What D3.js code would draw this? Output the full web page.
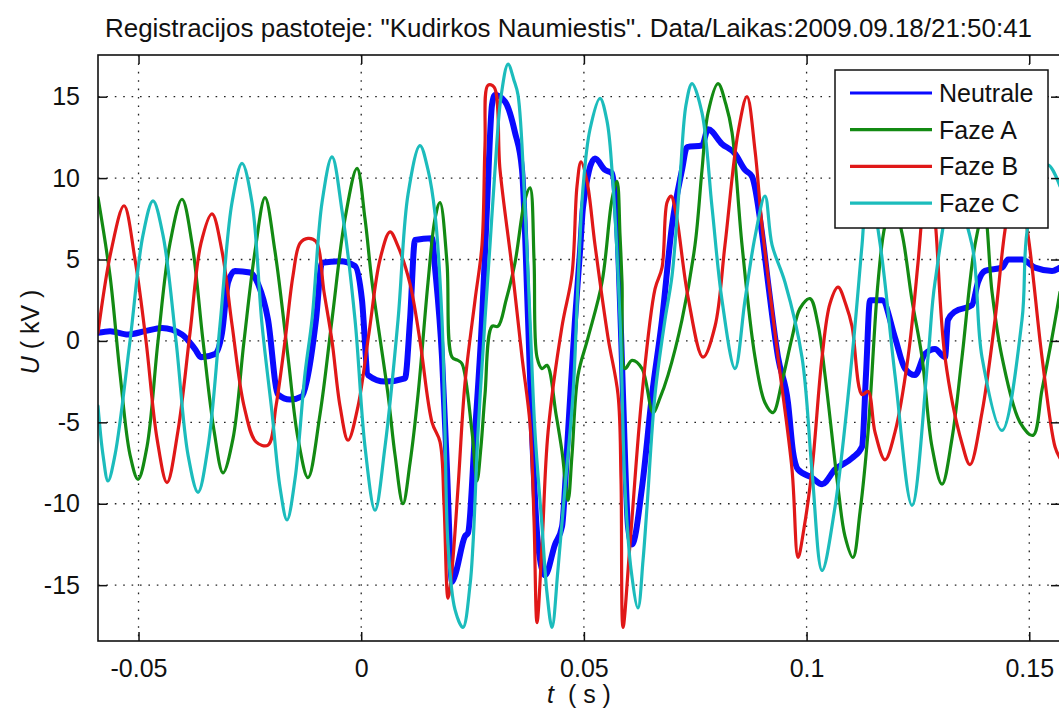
<!DOCTYPE html>
<html>
<head>
<meta charset="utf-8">
<script src="https://cdn.jsdelivr.net/npm/d3@7"></script>
<style>
  html, body { margin: 0; padding: 0; background: #ffffff; }
  svg { display: block; }
  text { font-family: "Liberation Sans", Arial, sans-serif; fill: #111; }
</style>
</head>
<body>
<div id="chart"></div>
<script>
// ---------------- DATA ----------------
const titleText = 'Registracijos pastoteje: "Kudirkos Naumiestis". Data/Laikas:2009.09.18/21:50:41';
const seriesNames = ["Neutrale", "Faze A", "Faze B", "Faze C"];
const xTicks = [-0.05, 0, 0.05, 0.1, 0.15];
const xTickLabels = ["-0.05", "0", "0.05", "0.1", "0.15"];
const yTicks = [-15, -10, -5, 0, 5, 10, 15];
const yTickLabels = ["-15", "-10", "-5", "0", "5", "10", "15"];
const xDomain = [-0.0591, 0.1569];
const yDomain = [-18.43, 17.56];

// Neutrale (blue)
const tNeutrale = [-0.05910,-0.05640,-0.05236,-0.04855,-0.04473,-0.04024,-0.03732,-0.03597,-0.03283,-0.03125,
 -0.02990,-0.02834,-0.02497,-0.02317,-0.02092,-0.01868,-0.01599,-0.01329,-0.01217,-0.01015,
 -0.00880,-0.00476,-0.00139,0.00018,0.00153,0.00534,0.00983,0.01096,0.01208,0.01590,
 0.01657,0.01814,0.01926,0.02039,0.02106,0.02330,0.02398,0.02555,0.02712,0.02824,
 0.02937,0.03004,0.03229,0.03453,0.03611,0.03746,0.03835,0.03970,0.04127,0.04351,
 0.04509,0.04644,0.04800,0.04913,0.04980,0.05249,0.05474,0.05631,0.05766,0.05878,
 0.05991,0.06080,0.06305,0.06530,0.06754,0.06979,0.07203,0.07315,0.07652,0.07787,
 0.08101,0.08393,0.08617,0.08775,0.08999,0.09134,0.09359,0.09583,0.09695,0.09808,
 0.10122,0.10347,0.10638,0.11020,0.11245,0.11335,0.11424,0.11694,0.11985,0.12210,
 0.12434,0.12659,0.12883,0.13108,0.13176,0.13332,0.13714,0.13849,0.14006,0.14388,
 0.14523,0.14837,0.15129,0.15511,0.15690];
const uNeutrale = [0.5,0.6,0.4,0.6,0.8,0.4,-0.5,-1.0,-0.8,0.5,
 3.6,4.3,4.2,3.5,1.3,-3.3,-3.6,-3.4,-2.4,1.3,
 4.8,4.9,4.6,2.5,-2.1,-2.5,-2.3,1.3,6.2,6.3,
 4.5,-1.0,-7.9,-14.8,-14.4,-12.0,-11.8,-5.6,1.3,8.2,
 14.5,15.1,14.7,12.8,10.5,1.3,-5.6,-12.5,-14.4,-12.5,
 -11.4,-5.6,1.3,5.5,8.2,11.2,10.5,10.3,5.9,-3.3,
 -11.4,-12.5,-9.0,-3.3,1.3,7.1,10.5,11.9,12.0,13.0,
 12.1,11.5,10.5,10.1,6.6,3.6,-1.0,-3.8,-6.8,-7.9,
 -8.4,-8.8,-7.9,-7.2,-6.5,-2.0,2.5,2.5,0.2,-1.7,
 -2.1,-0.8,-0.5,-1.0,1.3,1.8,2.2,3.6,4.3,4.5,
 5.0,5.0,4.5,4.3,4.5];

// Faze A (green)
const tFazeA = [-0.05910,-0.05640,-0.05416,-0.05191,-0.05011,-0.04810,-0.04562,-0.04293,-0.04024,-0.03799,
 -0.03552,-0.03305,-0.03103,-0.02879,-0.02631,-0.02385,-0.02160,-0.01936,-0.01643,-0.01419,
 -0.01194,-0.00925,-0.00656,-0.00364,-0.00094,0.00085,0.00243,0.00602,0.00759,0.00938,
 0.01096,0.01276,0.01500,0.01657,0.01769,0.01926,0.02039,0.02174,0.02263,0.02488,
 0.02600,0.02689,0.02779,0.02937,0.03072,0.03252,0.03453,0.03678,0.03790,0.03880,
 0.03947,0.04060,0.04172,0.04374,0.04509,0.04644,0.04733,0.04868,0.05093,0.05407,
 0.05631,0.05743,0.05811,0.05856,0.05923,0.06080,0.06305,0.06552,0.06709,0.06889,
 0.07203,0.07495,0.07652,0.07787,0.08012,0.08191,0.08326,0.08550,0.08842,0.09066,
 0.09246,0.09448,0.09673,0.09852,0.10077,0.10257,0.10414,0.10706,0.10863,0.11042,
 0.11200,0.11380,0.11604,0.11761,0.11940,0.12143,0.12367,0.12592,0.12816,0.13041,
 0.13265,0.13490,0.13781,0.13984,0.14164,0.14388,0.14792,0.15084,0.15286,0.15511,
 0.15690];
const uFazeA = [8.8,4.0,-2.0,-7.0,-8.5,-6.5,0,6.0,8.7,6.0,
 0,-5.5,-8.1,-6.0,0,5.5,8.8,5.5,-1.0,-6.0,
 -8.4,-4.5,1.3,7.5,10.6,7.5,3.6,-3.3,-7.0,-10.0,
 -7.5,-3.3,3.6,7.5,8.5,4.8,-1.0,-1.2,-1.4,-5.6,
 -8.6,-6.5,-3.3,0.9,0.9,2.5,4.8,8.7,9.4,5.0,
 -1.0,-1.7,-1.5,-4.5,-6.8,-9.8,-7.0,-2.1,0.2,3.6,
 8.7,9.8,6.5,3.6,-1.7,-1.2,-1.7,-4.4,-3.5,-2.1,
 1.3,5.9,10.5,14.0,15.8,14.5,12.8,5.9,-1.0,-3.8,
 -4.4,-2.5,0.2,2.0,2.6,1.0,-2.1,-9.0,-12.0,-13.3,
 -10.5,-5.6,3.6,7.1,8.5,6.6,2.5,-1.0,-6.5,-8.8,
 -6.0,-1.0,5.9,8.0,3.0,-1.0,-5.0,-5.8,-3.0,0.2,
 3.0];

// Faze B (red)
const tFazeB = [-0.05910,-0.05618,-0.05326,-0.05079,-0.04832,-0.04585,-0.04361,-0.04113,-0.03844,-0.03597,
 -0.03350,-0.03125,-0.02901,-0.02631,-0.02362,-0.02092,-0.01913,-0.01711,-0.01532,-0.01374,
 -0.01194,-0.01015,-0.00835,-0.00656,-0.00476,-0.00296,-0.00071,0.00175,0.00422,0.00647,
 0.00827,0.01096,0.01320,0.01590,0.01769,0.01859,0.01949,0.02039,0.02174,0.02330,
 0.02555,0.02712,0.02779,0.02847,0.02982,0.03117,0.03386,0.03611,0.03790,0.03880,
 0.03947,0.04060,0.04195,0.04509,0.04733,0.04845,0.04935,0.05070,0.05249,0.05542,
 0.05766,0.05833,0.05878,0.06035,0.06305,0.06597,0.06754,0.06866,0.06956,0.07069,
 0.07338,0.07674,0.07944,0.08168,0.08461,0.08662,0.08842,0.08999,0.09359,0.09673,
 0.09808,0.09942,0.10122,0.10347,0.10526,0.10706,0.10886,0.11020,0.11245,0.11380,
 0.11536,0.11761,0.11985,0.12278,0.12502,0.12614,0.12749,0.12883,0.13108,0.13490,
 0.13669,0.13939,0.14231,0.14455,0.14703,0.14972,0.15286,0.15578,0.15690];
const uFazeB = [0.5,5.5,8.3,5.0,0,-6.0,-8.7,-5.5,0.5,6.0,
 7.8,5.5,1.0,-4.0,-6.2,-6.4,-4.0,0,4.0,6.0,
 6.3,6.1,3.0,0,-4.0,-6.1,-4.0,0.5,5.0,6.7,
 5.8,3.5,0,-5.0,-6.2,-10,-15.8,-14,-9,-2.6,
 2.5,5.9,12,15.7,15.6,10.5,4.5,-1.0,-5.1,-11,
 -17.3,-12.5,-5.6,0.9,4.1,9.5,11.0,9.8,5.9,0.2,
 -3.3,-8.5,-17.6,-12.5,-3.3,3.2,4.5,8.5,8.9,7.8,
 2.7,-1.0,0.9,5.9,12.8,15.0,11.7,7.1,-1.0,-7.9,
 -13.3,-11.5,-7.9,-1.0,2.3,3.3,2.2,0.9,-3.3,-3.1,
 -5.6,-7.3,-5.6,-1.0,4.8,8.2,10.2,7.5,-1.0,-6.3,
 -7.6,-4.4,1.3,6.8,10.5,6.5,-1.0,-6.5,-7.2];

// Faze C (cyan)
const tFazeC = [-0.05910,-0.05798,-0.05685,-0.05528,-0.05191,-0.04900,-0.04675,-0.04451,-0.04158,-0.03889,
 -0.03664,-0.03439,-0.03170,-0.02901,-0.02676,-0.02452,-0.02227,-0.02003,-0.01823,-0.01666,
 -0.01487,-0.01262,-0.01105,-0.00880,-0.00656,-0.00431,-0.00139,0.00085,0.00310,0.00534,
 0.00827,0.01051,0.01320,0.01500,0.01657,0.01814,0.01881,0.01949,0.02106,0.02285,
 0.02443,0.02510,0.02623,0.02779,0.02892,0.03004,0.03139,0.03297,0.03431,0.03521,
 0.03678,0.03790,0.03902,0.04060,0.04172,0.04284,0.04419,0.04576,0.04755,0.04868,
 0.04980,0.05137,0.05362,0.05519,0.05631,0.05811,0.05923,0.06057,0.06215,0.06327,
 0.06417,0.06597,0.06821,0.06979,0.07158,0.07293,0.07428,0.07652,0.07877,0.08101,
 0.08393,0.08617,0.08842,0.09066,0.09224,0.09515,0.09897,0.10122,0.10347,0.10638,
 0.11020,0.11245,0.11380,0.11649,0.11985,0.12367,0.12727,0.12883,0.13287,0.13714,
 0.13939,0.14388,0.14837,0.14972,0.15421,0.15690];
const uFazeC = [-4.0,-7.0,-8.6,-7.0,0,6.5,8.6,6.5,0,-7.0,
 -9.3,-6.5,1.0,8.5,10.9,8.5,1.0,-4.4,-9.0,-11.0,
 -8.5,-2.0,1.3,8.5,11.3,8.0,1.3,-6.5,-10.4,-6.5,
 1.3,9.0,12.0,10.5,7.8,1.3,-5.6,-12.5,-16.5,-17.6,
 -15.0,-12.5,-5.6,1.3,5.9,10.5,15.0,17.0,16.0,15.1,
 8.2,1.3,-5.6,-11.4,-15.5,-17.6,-14.0,-9.0,-3.3,3.6,
 9.4,13.0,14.9,13.5,10.5,1.3,-9.0,-14.0,-16.4,-13.5,
 -10.2,-3.3,1.3,4.0,10.0,14.5,15.8,14.0,8.2,2.5,
 -1.7,2.5,6.4,8.9,5.9,3.6,-1.0,-8.0,-14.1,-10.2,
 -1.0,5.9,10.0,6.0,-2.1,-10.1,-1.0,3.6,9.0,5.9,
 -1.0,-5.5,1.3,7.1,10.8,9.5];

const seriesColors = ["#0a0aff", "#138a13", "#e01818", "#1cbcbc"];

// ---------------- LAYOUT ----------------
const W = 1059, H = 711;
const plot = { left: 98, top: 55, right: 1060, bottom: 641 };
const FONT = 25;

const svg = d3.select("#chart").append("svg").attr("width", W).attr("height", H);
svg.append("rect").attr("width", W).attr("height", H).attr("fill", "#ffffff");

const x = d3.scaleLinear().domain(xDomain).range([plot.left, plot.right]);
const y = d3.scaleLinear().domain(yDomain).range([plot.bottom, plot.top]);

svg.append("defs").append("clipPath").attr("id", "clip")
  .append("rect").attr("x", plot.left).attr("y", plot.top)
  .attr("width", plot.right - plot.left).attr("height", plot.bottom - plot.top);

// grid
const grid = svg.append("g").attr("stroke", "#222").attr("stroke-width", 1.3)
  .attr("stroke-dasharray", "1.6,6.8");
grid.selectAll(".gx").data(xTicks).enter().append("line")
  .attr("x1", d => x(d)).attr("x2", d => x(d)).attr("y1", plot.top).attr("y2", plot.bottom);
grid.selectAll(".gy").data(yTicks).enter().append("line")
  .attr("y1", d => y(d)).attr("y2", d => y(d)).attr("x1", plot.left).attr("x2", plot.right);

// series
const series = [
  { name: seriesNames[0], t: tNeutrale, u: uNeutrale, color: seriesColors[0], w: 6, curve: d3.curveMonotoneX },
  { name: seriesNames[1], t: tFazeA, u: uFazeA, color: seriesColors[1], w: 3.2, curve: d3.curveCatmullRom.alpha(0.5) },
  { name: seriesNames[2], t: tFazeB, u: uFazeB, color: seriesColors[2], w: 3.2, curve: d3.curveCatmullRom.alpha(0.5) },
  { name: seriesNames[3], t: tFazeC, u: uFazeC, color: seriesColors[3], w: 3.2, curve: d3.curveCatmullRom.alpha(0.5) }
];
const lines = svg.append("g").attr("clip-path", "url(#clip)");
series.forEach(s => {
  const pts = s.t.map((t, i) => [t, s.u[i]]);
  const line = d3.line().x(d => x(d[0])).y(d => y(d[1])).curve(s.curve);
  lines.append("path").datum(pts).attr("d", line)
    .attr("fill", "none").attr("stroke", s.color).attr("stroke-width", s.w)
    .attr("stroke-linejoin", "round").attr("stroke-linecap", "round");
});

// axes frame + ticks (inward, all four sides)
const TL = 9;
const axesG = svg.append("g");
axesG.append("g").attr("transform", `translate(0,${plot.bottom})`)
  .call(d3.axisBottom(x).tickValues(xTicks).tickSize(-TL).tickFormat((d, i) => xTickLabels[i]).tickPadding(18))
  .call(g => g.select(".domain").remove());
axesG.append("g").attr("transform", `translate(0,${plot.top})`)
  .call(d3.axisTop(x).tickValues(xTicks).tickSize(-TL).tickFormat(""))
  .call(g => g.select(".domain").remove());
axesG.append("g").attr("transform", `translate(${plot.left},0)`)
  .call(d3.axisLeft(y).tickValues(yTicks).tickSize(-TL).tickFormat((d, i) => yTickLabels[i]).tickPadding(18))
  .call(g => g.select(".domain").remove());
axesG.append("g").attr("transform", `translate(${plot.right},0)`)
  .call(d3.axisRight(y).tickValues(yTicks).tickSize(-TL).tickFormat(""))
  .call(g => g.select(".domain").remove());
axesG.selectAll(".tick line").attr("stroke", "#111").attr("stroke-width", 1.5);
axesG.selectAll(".tick text").attr("font-size", FONT).attr("fill", "#111")
  .style("font-family", '"Liberation Sans", Arial, sans-serif');
axesG.append("rect").attr("x", plot.left).attr("y", plot.top)
  .attr("width", plot.right - plot.left).attr("height", plot.bottom - plot.top)
  .attr("fill", "none").attr("stroke", "#111").attr("stroke-width", 1.6);

// legend
const lg = svg.append("g");
lg.append("rect").attr("x", 835).attr("y", 70).attr("width", 213).attr("height", 158)
  .attr("fill", "#ffffff").attr("stroke", "#111").attr("stroke-width", 1.5);
series.forEach((s, i) => {
  const ry = 93 + i * 36.7;
  lg.append("line").attr("x1", 850).attr("x2", 932).attr("y1", ry).attr("y2", ry)
    .attr("stroke", s.color).attr("stroke-width", 3.2);
  lg.append("text").attr("x", 939).attr("y", ry + 9).attr("font-size", FONT).text(s.name);
});

// title
svg.append("text").attr("x", 105).attr("y", 37).attr("font-size", FONT)
  .attr("textLength", 927).attr("lengthAdjust", "spacingAndGlyphs").text(titleText);

// x label
const xl = svg.append("text").attr("x", 579).attr("y", 703).attr("text-anchor", "middle")
  .attr("font-size", FONT).attr("xml:space", "preserve");
xl.append("tspan").attr("font-style", "italic").text("t");
xl.append("tspan").text("  ( s )");

// y label
const yl = svg.append("text").attr("transform", "translate(39,332) rotate(-90)")
  .attr("text-anchor", "middle").attr("font-size", FONT);
yl.append("tspan").attr("font-style", "italic").text("U");
yl.append("tspan").text(" ( kV )");
</script>
</body>
</html>
